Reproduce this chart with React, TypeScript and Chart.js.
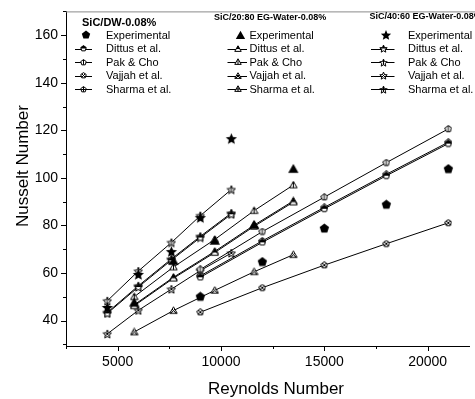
import React, { useEffect, useRef } from 'react';
import { Chart, registerables } from 'chart.js';

Chart.register(...registerables);

const FONT = '"Liberation Sans", Arial, Helvetica, sans-serif';

// ---- data ----
const reDW = [9000, 12000, 15000, 18000, 21000];
const dwExperimental = [50, 64.6, 78.7, 88.7, 103.7];
const dwDittus = [58.2, 72.9, 87.0, 100.9, 114.4];
const dwPak = [61.5, 77.4, 91.9, 106.4, 120.6];
const dwVajjah = [43.5, 53.8, 63.3, 72.3, 81.1];
const dwSharma = [58.8, 73.5, 87.6, 101.5, 115.0];

const reEG20 = [5800, 7700, 9700, 11600, 13500];
const eg20Experimental = [47.5, 65, 73.5, 80.2, 103.7];
const eg20Dittus = [46.2, 57.8, 68.6, 79.6, 89.8];
const eg20Pak = [50, 62.5, 74.1, 86.2, 97];
const eg20Vajjah = [35.2, 44.2, 52.7, 60.5, 67.7];
const eg20Sharma = [46.6, 58.2, 69.1, 80.1, 90.3];

const reEG40 = [4500, 6000, 7600, 9000, 10500];
const eg40Experimental = [45.5, 59.4, 69, 83.3, 116.5];
const eg40Dittus = [43, 54.1, 65.4, 74.9, 84.7];
const eg40Pak = [48.3, 60.8, 72.8, 84.1, 95.1];
const eg40Vajjah = [34.4, 44.3, 53.2, 61, 68.4];
const eg40Sharma = [43.4, 54.6, 65.9, 75.4, 85.2];

const xMajorTicks = [5000, 10000, 15000, 20000];
const xMinorTicks = [2500, 7500, 12500, 17500];
const yMajorTicks = [40, 60, 80, 100, 120, 140, 160];
const yMinorTicks = [30, 50, 70, 90, 110, 130, 150, 170];

const legendTitles = ['SiC/DW-0.08%', 'SiC/20:80 EG-Water-0.08%', 'SiC/40:60 EG-Water-0.08%'];
const seriesLabels = ['Experimental', 'Dittus et al.', 'Pak & Cho', 'Vajjah et al.', 'Sharma et al.'];
const xTitle = 'Reynolds Number';
const yTitle = 'Nusselt Number';

type Shape = 'pentagon' | 'triangle' | 'star';
type Variant = 'filled' | 'half' | 'vline' | 'x' | 'plus';
const variants: Variant[] = ['filled', 'half', 'vline', 'x', 'plus'];

function shapePath(ctx: CanvasRenderingContext2D, shape: Shape, cx: number, cy: number, r: number) {
  ctx.beginPath();
  if (shape === 'pentagon') {
    for (let k = 0; k < 5; k++) {
      const a = -Math.PI / 2 + (k * 2 * Math.PI) / 5;
      const px = cx + r * Math.cos(a);
      const py = cy + r * Math.sin(a);
      if (k === 0) ctx.moveTo(px, py); else ctx.lineTo(px, py);
    }
  } else if (shape === 'triangle') {
    const c = cy + r * 0.15;
    for (let k = 0; k < 3; k++) {
      const a = -Math.PI / 2 + (k * 2 * Math.PI) / 3;
      const px = cx + r * 1.1 * Math.cos(a);
      const py = c + r * 1.1 * Math.sin(a);
      if (k === 0) ctx.moveTo(px, py); else ctx.lineTo(px, py);
    }
  } else {
    for (let k = 0; k < 10; k++) {
      const a = -Math.PI / 2 + (k * Math.PI) / 5;
      const rr = k % 2 === 0 ? r : r * 0.45;
      const px = cx + rr * Math.cos(a);
      const py = cy + 0.5 + rr * Math.sin(a);
      if (k === 0) ctx.moveTo(px, py); else ctx.lineTo(px, py);
    }
  }
  ctx.closePath();
}

function makeMarker(shape: Shape, variant: Variant, size: number): HTMLCanvasElement {
  const c = document.createElement('canvas');
  c.width = size;
  c.height = size;
  const ctx = c.getContext('2d') as CanvasRenderingContext2D;
  const cx = size / 2;
  const cy = size / 2;
  const r = size / 2 - 0.6;
  shapePath(ctx, shape, cx, cy, r);
  if (variant === 'filled') {
    ctx.fillStyle = '#000';
    ctx.fill();
    return c;
  }
  ctx.fillStyle = '#fff';
  ctx.fill();
  ctx.save();
  ctx.clip();
  ctx.strokeStyle = '#000';
  ctx.lineWidth = 1;
  ctx.fillStyle = '#000';
  ctx.beginPath();
  if (variant === 'half') {
    ctx.fillRect(0, 0, size, cy);
  } else if (variant === 'vline') {
    ctx.moveTo(cx, 0); ctx.lineTo(cx, size);
  } else if (variant === 'x') {
    ctx.moveTo(0, 0); ctx.lineTo(size, size);
    ctx.moveTo(size, 0); ctx.lineTo(0, size);
  } else if (variant === 'plus') {
    ctx.moveTo(cx, 0); ctx.lineTo(cx, size);
    ctx.moveTo(0, cy); ctx.lineTo(size, cy);
  }
  ctx.stroke();
  ctx.restore();
  shapePath(ctx, shape, cx, cy, r);
  ctx.strokeStyle = '#000';
  ctx.lineWidth = 1;
  ctx.stroke();
  return c;
}

const expSize: Record<Shape, number> = { pentagon: 11, triangle: 12, star: 13 };
const modelSize: Record<Shape, number> = { pentagon: 8, triangle: 9, star: 10 };

export default function App() {
  const canvasRef = useRef<HTMLCanvasElement | null>(null);

  useEffect(() => {
    document.body.style.margin = '0';
    const canvas = canvasRef.current;
    if (!canvas) return;

    const groups: { shape: Shape; re: number[]; series: number[][] }[] = [
      { shape: 'pentagon', re: reDW, series: [dwExperimental, dwDittus, dwPak, dwVajjah, dwSharma] },
      { shape: 'triangle', re: reEG20, series: [eg20Experimental, eg20Dittus, eg20Pak, eg20Vajjah, eg20Sharma] },
      { shape: 'star', re: reEG40, series: [eg40Experimental, eg40Dittus, eg40Pak, eg40Vajjah, eg40Sharma] },
    ];

    const markers: Record<string, HTMLCanvasElement> = {};
    const legendMarkers: Record<string, HTMLCanvasElement> = {};
    groups.forEach((g) => {
      variants.forEach((v) => {
        const s = v === 'filled' ? expSize[g.shape] : modelSize[g.shape];
        markers[g.shape + v] = makeMarker(g.shape, v, s);
        legendMarkers[g.shape + v] = makeMarker(g.shape, v, v === 'filled' ? s - 1 : s - 1);
      });
    });

    const datasets: any[] = [];
    groups.forEach((g, gi) => {
      g.series.forEach((vals, i) => {
        datasets.push({
          label: legendTitles[gi] + ' ' + seriesLabels[i],
          data: g.re.map((x, j) => ({ x, y: vals[j] })),
          showLine: i > 0,
          borderColor: '#000',
          backgroundColor: '#000',
          borderWidth: 1,
          pointStyle: markers[g.shape + variants[i]],
          pointRadius: 5,
          pointHoverRadius: 5,
          fill: false,
        });
      });
    });

    const legendLayout = [
      { titleX: 82, titleY: 23, titleFont: `bold 11px ${FONT}`, markerX: 83.5, lineX1: 75, lineX2: 92, textX: 106 },
      { titleX: 214, titleY: 17.5, titleFont: `bold 9px ${FONT}`, markerX: 237.5, lineX1: 227.5, lineX2: 247, textX: 249.5 },
      { titleX: 369.5, titleY: 17, titleFont: `bold 9px ${FONT}`, markerX: 383.5, lineX1: 371, lineX2: 394.5, textX: 408 },
    ];

    const decor = {
      id: 'decor',
      afterDraw(chart: any) {
        const { ctx, chartArea: ca, scales } = chart;
        const xs = scales.x;
        const ys = scales.y;
        ctx.save();
        // top frame
        ctx.strokeStyle = '#8a8a8a';
        ctx.lineWidth = 1;
        ctx.beginPath();
        ctx.moveTo(ca.left, ca.top + 0.5);
        ctx.lineTo(chart.width, ca.top + 0.5);
        ctx.stroke();
        // ticks
        ctx.strokeStyle = '#000';
        ctx.beginPath();
        const yT = [...yMajorTicks.map((v) => [v, 5]), ...yMinorTicks.map((v) => [v, 3])];
        yT.forEach(([v, len]) => {
          const py = Math.round(ys.getPixelForValue(v)) + 0.5;
          if (py < ca.top || py > ca.bottom + 1) return;
          ctx.moveTo(ca.left - len, py);
          ctx.lineTo(ca.left, py);
        });
        const xT = [...xMajorTicks.map((v) => [v, 5]), ...xMinorTicks.map((v) => [v, 3])];
        xT.forEach(([v, len]) => {
          const px = Math.round(xs.getPixelForValue(v)) + 0.5;
          if (px < ca.left - 1 || px > chart.width) return;
          ctx.moveTo(px, ca.bottom);
          ctx.lineTo(px, ca.bottom + len);
        });
        ctx.stroke();
        // axis titles
        ctx.fillStyle = '#000';
        ctx.font = `17px ${FONT}`;
        ctx.textAlign = 'center';
        ctx.textBaseline = 'alphabetic';
        ctx.fillText(xTitle, 276, 393.5);
        ctx.save();
        ctx.translate(28, 166);
        ctx.rotate(-Math.PI / 2);
        ctx.fillText(yTitle, 0, 0);
        ctx.restore();
        // legends
        groups.forEach((g, gi) => {
          const L = legendLayout[gi];
          ctx.font = L.titleFont;
          ctx.textAlign = 'left';
          ctx.textBaseline = 'middle';
          ctx.fillStyle = '#000';
          ctx.fillText(legendTitles[gi], L.titleX, L.titleY);
          seriesLabels.forEach((lab, i) => {
            const ry = 35 + 13.6 * i;
            const m = legendMarkers[g.shape + variants[i]];
            if (i > 0) {
              ctx.beginPath();
              ctx.strokeStyle = '#000';
              ctx.lineWidth = 1;
              ctx.moveTo(L.lineX1, Math.round(ry) + 0.5);
              ctx.lineTo(L.lineX2, Math.round(ry) + 0.5);
              ctx.stroke();
              ctx.drawImage(m, Math.round(L.markerX - m.width / 2), Math.round(ry - m.height / 2));
            } else {
              ctx.drawImage(m, Math.round(L.markerX + 2.5 - m.width / 2), Math.round(ry - m.height / 2));
            }
            ctx.font = `11px ${FONT}`;
            ctx.fillStyle = '#000';
            ctx.textBaseline = 'middle';
            ctx.fillText(lab, L.textX, ry + 0.5);
          });
        });
        ctx.restore();
      },
    };

    const chart = new Chart(canvas, {
      type: 'scatter',
      data: { datasets },
      options: {
        responsive: false,
        animation: false,
        devicePixelRatio: 1,
        layout: { padding: { top: 7, right: 1, left: 0, bottom: 0 } },
        plugins: { legend: { display: false }, tooltip: { enabled: false } },
        scales: {
          x: {
            type: 'linear',
            min: 2500,
            max: 22000,
            afterBuildTicks: (s: any) => { s.ticks = xMajorTicks.map((v) => ({ value: v })); },
            afterFit: (s: any) => { s.height = 53; },
            grid: { display: true, drawOnChartArea: false, drawTicks: true, tickLength: 5, color: 'rgba(0,0,0,0)' },
            border: { display: true, color: '#000', width: 1 },
            ticks: {
              color: '#000',
              font: { family: FONT, size: 14 },
              padding: 3,
              maxRotation: 0,
              autoSkip: false,
              callback: (v: any) => String(v),
            },
          },
          y: {
            type: 'linear',
            min: 29.3,
            max: 170,
            afterBuildTicks: (s: any) => { s.ticks = yMajorTicks.map((v) => ({ value: v })); },
            afterFit: (s: any) => { s.width = 66; },
            grid: { display: true, drawOnChartArea: false, drawTicks: true, tickLength: 5, color: 'rgba(0,0,0,0)' },
            border: { display: true, color: '#000', width: 1 },
            ticks: {
              color: '#000',
              font: { family: FONT, size: 14 },
              padding: 3,
              autoSkip: false,
              callback: (v: any) => String(v),
            },
          },
        },
      },
      plugins: [decor],
    });

    return () => chart.destroy();
  }, []);

  return (
    <div style={{ width: 475, height: 399, position: 'relative', background: '#fff' }}>
      <canvas ref={canvasRef} width={475} height={399} style={{ display: 'block', width: 475, height: 399 }} />
    </div>
  );
}
